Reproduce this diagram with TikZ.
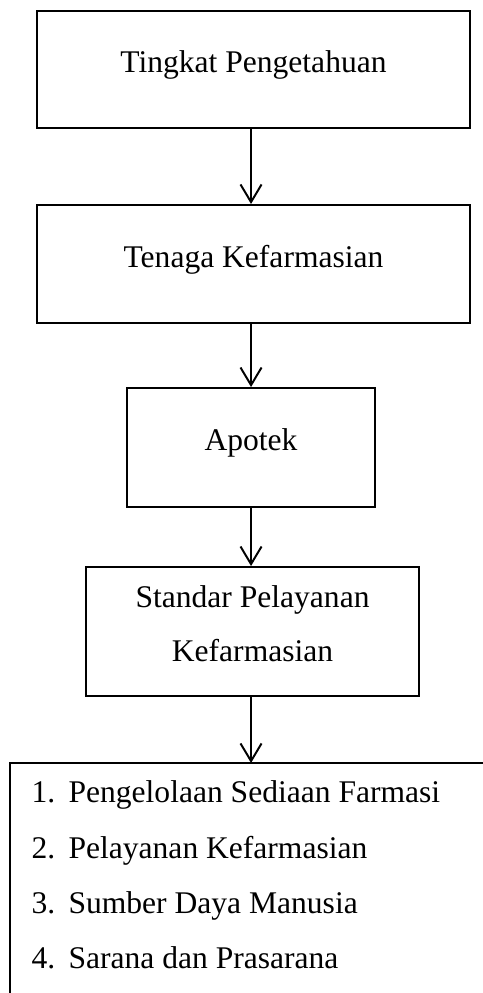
\documentclass[tikz,border=0pt]{standalone}
\usepackage{fontspec}
\setmainfont{Liberation Serif}
\usetikzlibrary{arrows.meta}
\begin{document}
\begin{tikzpicture}[
    kotak/.style={draw, line width=0.75pt, inner sep=0pt, align=center,
      font=\fontsize{12}{20.2}\selectfont},
    tunggal/.style={text height=8.2pt, text depth=5.9pt},
    panah/.style={line width=0.75pt, -{Straight Barb[length=6.7pt,width=8pt]}},
    butir/.style={anchor=base west, inner sep=0pt, font=\fontsize{12}{14.4}\selectfont}
  ]
    \useasboundingbox (0,0) rectangle (6.455,-13.271);
    % kotak alur
    \node[kotak, tunggal, minimum width=5.787cm, minimum height=1.564cm] (tingkat) at (3.388,-0.929) {Tingkat Pengetahuan};
    \node[kotak, tunggal, minimum width=5.787cm, minimum height=1.577cm] (tenaga) at (3.388,-3.528) {Tenaga Kefarmasian};
    \node[kotak, tunggal, minimum width=3.315cm, minimum height=1.590cm] (apotek) at (3.355,-5.981) {Apotek};
    \node[kotak, minimum width=4.451cm, minimum height=1.724cm] (standar) at (3.375,-8.440) {Standar Pelayanan\\Kefarmasian\strut};
    % kotak daftar, terpotong di kanan dan bawah
    \coordinate (daftar) at (0.134,-10.197);
    \draw[line width=0.75pt] (0.134,-13.6) -- (daftar) -- (6.8,-10.197);
    \node[butir] (b1) at (0.414,-10.719) {\makebox[14.1pt][l]{1.}Pengelolaan Sediaan Farmasi};
    \node[butir] (b2) at (0.414,-11.471) {\makebox[14.1pt][l]{2.}Pelayanan Kefarmasian};
    \node[butir] (b3) at (0.414,-12.206) {\makebox[14.1pt][l]{3.}Sumber Daya Manusia};
    \node[butir] (b4) at (0.414,-12.941) {\makebox[14.1pt][l]{4.}Sarana dan Prasarana};
    % panah
    \coordinate (sumbu) at (3.355,0);
    \draw[panah] (tingkat.south -| sumbu) -- (tenaga.north -| sumbu);
    \draw[panah] (tenaga.south -| sumbu) -- (apotek.north -| sumbu);
    \draw[panah] (apotek.south -| sumbu) -- (standar.north -| sumbu);
    \draw[panah] (standar.south -| sumbu) -- (daftar -| sumbu);
\end{tikzpicture}
\end{document}
